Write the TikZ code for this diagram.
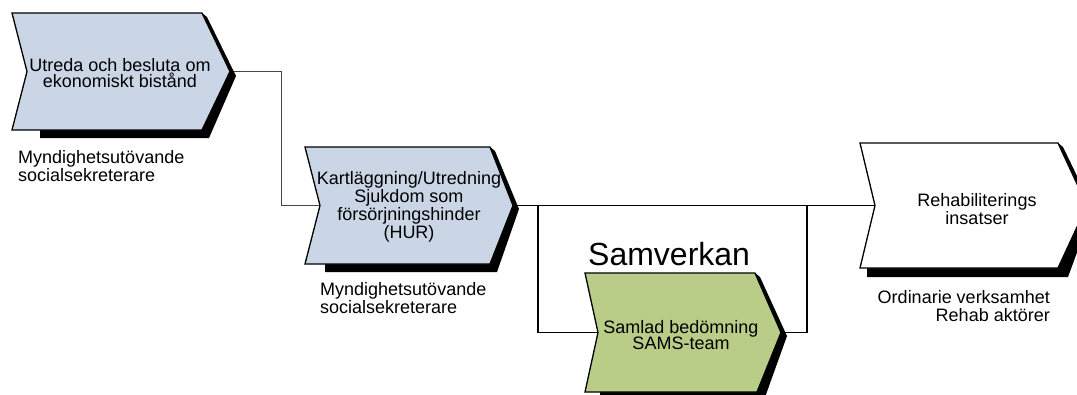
\documentclass[tikz,border=0pt]{standalone}
\usepackage{fontspec}
\setmainfont{Liberation Sans}
\definecolor{chevblue}{RGB}{202,214,230}
\definecolor{chevgreen}{RGB}{185,204,136}
\definecolor{conngray}{RGB}{70,70,70}
\begin{document}
\begin{tikzpicture}[x=1pt,y=-1pt,
  chev/.style={draw=black,line width=1.3pt,line join=miter},
  shadowfill/.style={fill=black},
  thinconn/.style={draw=conngray,line width=0.9pt},
  conn/.style={draw=black,line width=1.6pt},
  shapetext/.style={font=\fontsize{18}{16.5}\selectfont,align=center,inner sep=0pt},
  labeltext/.style={font=\fontsize{18}{18}\selectfont,inner sep=0pt},
  bigtext/.style={font=\fontsize{32}{36}\selectfont,inner sep=0pt}]
\useasboundingbox (0,0) rectangle (1077,394);
\clip (0,0) rectangle (1077,394);
\fill[white] (0,0) rectangle (1077,394);

% shape coordinates
\coordinate (s1tip) at (230,71.5);
\coordinate (s1notch) at (27,71.5);
\coordinate (s2tip) at (513,205.5);
\coordinate (s2notch) at (320,205.5);
\coordinate (s3tip) at (781,332.5);
\coordinate (s3notch) at (598,332.5);
\coordinate (s4tip) at (1087,205.5);
\coordinate (s4notch) at (875,205.5);

% connectors
\draw[thinconn] (s1tip) -- ++(51,0) |- (s2notch);
\draw[conn] (s2tip) -- (s4notch);
\draw[conn] (538,205.5) rectangle (807,332.5);

% shape 1
\path[shadowfill] (207,17) -- (236,76) -- (209,138) -- (40,138) -- (40,130) -- (202,130) -- (s1tip) -- (202,13) -- cycle;
\path[chev,fill=chevblue] (12,13) -- (202,13) -- (s1tip) -- (202,130) -- (12,130) -- (s1notch) -- cycle;
% shape 2
\path[shadowfill] (495,151) -- (519,209) -- (497,272) -- (325,272) -- (325,264) -- (490,264) -- (s2tip) -- (490,147) -- cycle;
\path[chev,fill=chevblue] (305,147) -- (490,147) -- (s2tip) -- (490,264) -- (305,264) -- (s2notch) -- cycle;
% shape 3
\path[shadowfill] (760,277) -- (787,336) -- (764,400) -- (600,400) -- (600,392) -- (757,392) -- (s3tip) -- (755,273) -- cycle;
\path[chev,fill=chevgreen] (585,273) -- (755,273) -- (s3tip) -- (757,392) -- (585,392) -- (s3notch) -- cycle;
% shape 4
\path[shadowfill] (1063,147) -- (1093,209) -- (1068,277) -- (867,277) -- (867,268) -- (1058,268) -- (s4tip) -- (1058,143) -- cycle;
\path[chev,fill=white] (860,143) -- (1058,143) -- (s4tip) -- (1058,268) -- (860,268) -- (s4notch) -- cycle;

% texts
\node[shapetext] (t1) at (120,73) {Utreda och besluta om\\ekonomiskt bistånd};
\node[shapetext] (t2) at (409,207) {Kartläggning/Utredning\\Sjukdom som\\försörjningshinder\\(HUR)};
\node[shapetext] (t3) at (681,335) {Samlad bedömning\\SAMS-team};
\node[shapetext] (t4) at (977,209) {Rehabiliterings\\insatser};
\node[bigtext,anchor=base west] (sam) at (588,265) {Samverkan};

\node[labeltext,anchor=north west,align=left] (l1) at (18,150) {Myndighetsutövande\\socialsekreterare};
\node[labeltext,anchor=north west,align=left] (l2) at (320,282) {Myndighetsutövande\\socialsekreterare};
\node[labeltext,anchor=north east,align=right] (l3) at (1050,290) {Ordinarie verksamhet\\Rehab aktörer};
\end{tikzpicture}
\end{document}
